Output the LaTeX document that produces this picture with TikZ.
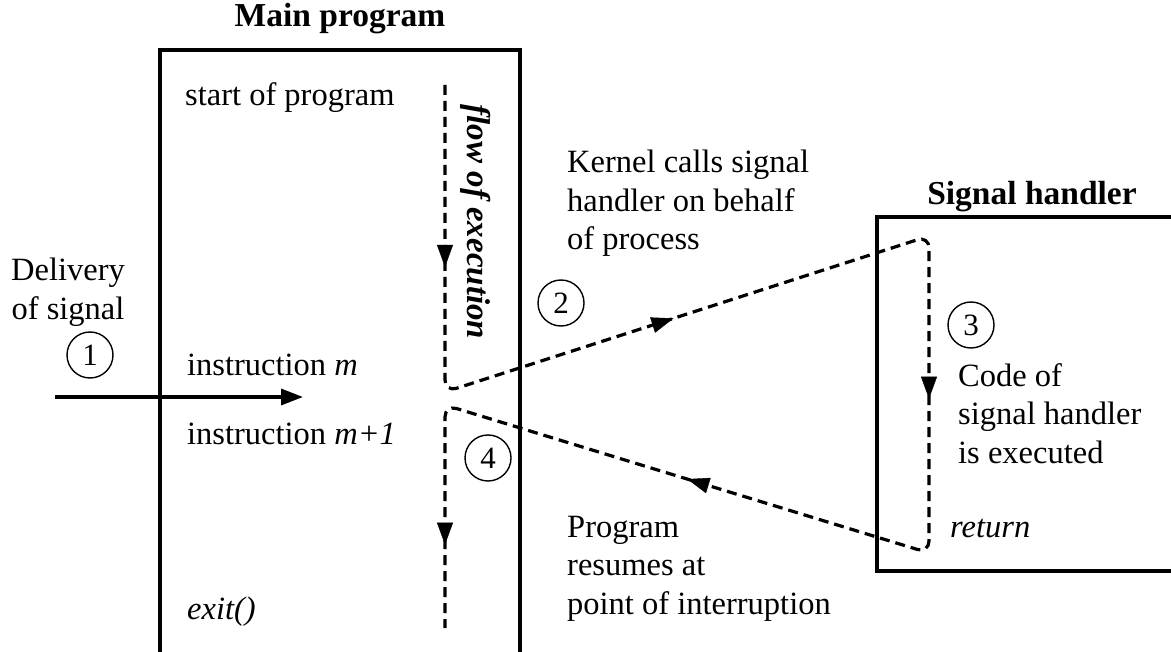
\documentclass[tikz,border=0pt]{standalone}
\usepackage{fontspec}
\setmainfont{Liberation Serif}
\usetikzlibrary{arrows.meta,decorations.markings}
\tikzset{
  frame/.style={line width=3.3pt},
  flow/.style={line width=3.2pt, dash pattern=on 10pt off 6pt, rounded corners=12pt},
  tip/.style={-{Triangle[length=22pt,width=16pt]}},
  label/.style={inner sep=0pt, align=left, font=\fontsize{32.5}{38.5}\selectfont},
  title/.style={inner sep=0pt, font=\fontsize{33.5}{38.5}\selectfont\bfseries},
  num/.style={circle, draw, line width=1.4pt, minimum size=46pt, inner sep=0pt, font=\fontsize{31}{38.5}\selectfont},
}
\begin{document}
\begin{tikzpicture}[x=1pt,y=-1pt]
\useasboundingbox (0,0) rectangle (1171,652);

% boxes for the main program and the signal handler
\draw[frame] (160,660) -- (160,50) -- (520,50) -- (520,660);
\draw[frame] (1180,217) -- (877,217) -- (877,571) -- (1180,571);
\node[title] (tmain) at (340,19) {Main program};
\node[title] (thand) at (1032,197) {Signal handler};

% texts in the main program
\node[label, anchor=base west] (start) at (185,106) {start of program};
\node[label, anchor=base west] (im) at (187,376) {instruction \textit{m}};
\node[label, anchor=base west] (im1) at (187,445) {instruction \textit{m+1}};
\node[label, anchor=base west] (exit) at (187,619) {\textit{exit()}};
\node[label, rotate=-90, font=\fontsize{33}{38.5}\selectfont\bfseries\itshape] (flowtxt) at (476,222) {flow of execution};

% delivery of the signal
\node[label, align=center] (deliv) at (68,292) {Delivery\\of signal};
\node[num] (n1) at (90,355) {1};
\coordinate (sigA) at (55,397);
\coordinate (sigB) at (303,397);
\draw[line width=3.3pt, tip] (sigA) -- (sigB);

% descriptive texts
\node[label, anchor=north west] (kern) at (567,150) {Kernel calls signal\\handler on behalf\\of process};
\node[num] (n2) at (561,303) {2};
\node[num] (n3) at (971,325) {3};
\node[label, anchor=north west] (code) at (958,363) {Code of\\signal handler\\is executed};
\node[label, anchor=base west] (ret) at (950,537) {\textit{return}};
\node[num] (n4) at (488,458) {4};
\node[label, anchor=north west] (prog) at (567,516) {Program\\resumes at\\point of interruption};

% flow of execution
\coordinate (f0) at (445,85);
\coordinate (f1) at (445,392);
\coordinate (f2) at (929,236);
\coordinate (f3) at (929,553);
\coordinate (f4) at (445,405);
\coordinate (f5) at (445,628);
\draw[flow] (f0) -- (f1) -- (f2) -- (f3) -- (f4) -- (f5);
\path[postaction={decorate}, decoration={markings,
    mark=at position 182pt with {\arrow{Triangle[length=22pt,width=16pt]}},
    mark=at position 540pt with {\arrow{Triangle[length=22pt,width=16pt]}},
    mark=at position 964pt with {\arrow{Triangle[length=22pt,width=16pt]}},
    mark=at position 1364pt with {\arrow{Triangle[length=22pt,width=16pt]}},
    mark=at position 1750pt with {\arrow{Triangle[length=22pt,width=16pt]}}}]
  [rounded corners=12pt] (f0) -- (f1) -- (f2) -- (f3) -- (f4) -- (f5);
\end{tikzpicture}
\end{document}
